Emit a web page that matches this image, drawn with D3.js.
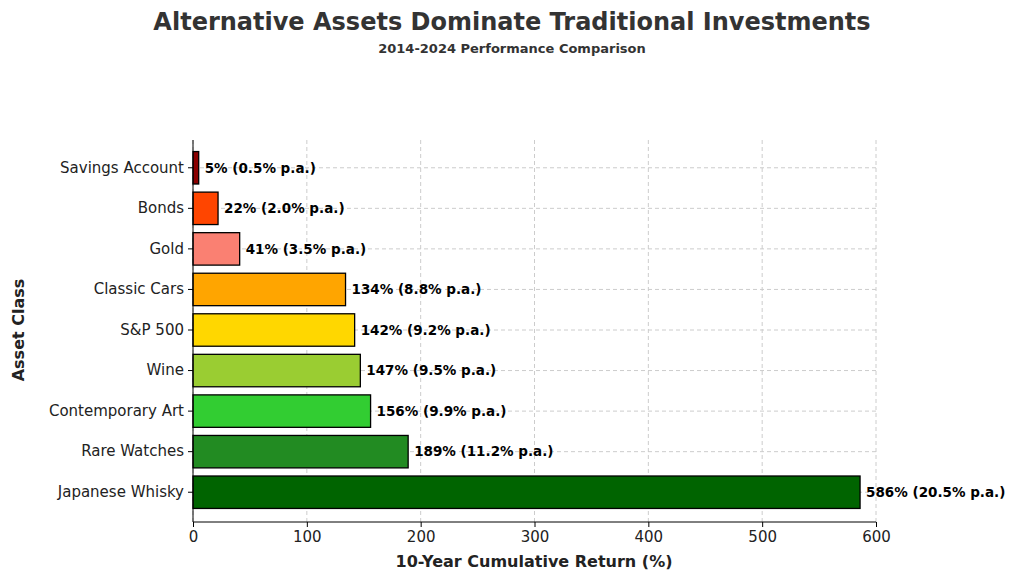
<!DOCTYPE html><html><head><meta charset="utf-8"><script src="https://cdn.jsdelivr.net/npm/d3@7"></script>
<style>body{margin:0;background:#fff}text{font-family:"DejaVu Sans",sans-serif}</style></head><body><svg id="c" width="1024" height="581"></svg>
<script>
const categories=["Savings Account","Bonds","Gold","Classic Cars","S&P 500","Wine","Contemporary Art","Rare Watches","Japanese Whisky"];
const returns=[5,22,41,134,142,147,156,189,586];
const annual=[0.5,2.0,3.5,8.8,9.2,9.5,9.9,11.2,20.5];
const colors=["#8B0000","#FF4500","#FA8072","#FFA500","#FFD700","#9ACD32","#32CD32","#228B22","#006400"];
const xTicks=[0,100,200,300,400,500,600];
const svg=d3.select("#c");
const x=d3.scaleLinear().domain([0,600]).range([193,876]);
const y=d3.scaleBand().domain(categories).range([147.5,512.5]).paddingInner(0.2).paddingOuter(0.1);
svg.append("g").selectAll("line").data(xTicks).join("line").attr("x1",d=>x(d)).attr("x2",d=>x(d)).attr("y1",140).attr("y2",522).attr("stroke","#ccc").attr("stroke-dasharray","4,3");
svg.append("g").selectAll("line").data(categories).join("line").attr("x1",193).attr("x2",876).attr("y1",d=>y(d)+y.bandwidth()/2).attr("y2",d=>y(d)+y.bandwidth()/2).attr("stroke","#ccc").attr("stroke-dasharray","4,3");
svg.append("g").selectAll("rect").data(categories).join("rect").attr("x",x(0)).attr("y",d=>y(d)).attr("height",y.bandwidth()).attr("width",(d,i)=>x(returns[i])-x(0)).attr("fill",(d,i)=>colors[i]).attr("stroke","#000").attr("stroke-width",1.3);
svg.append("g").selectAll("text").data(categories).join("text").attr("x",(d,i)=>x(returns[i])+6).attr("y",d=>y(d)+y.bandwidth()/2).attr("dy","0.35em").attr("font-size",13.5).attr("font-weight","bold").text((d,i)=>`${returns[i]}% (${annual[i].toFixed(1)}% p.a.)`);
const xa=svg.append("g").attr("transform","translate(0,522)").call(d3.axisBottom(x).tickValues(xTicks).tickSize(5).tickPadding(4));
xa.selectAll("text").attr("font-size",15).attr("fill","#222");
const ya=svg.append("g").attr("transform","translate(193,0)").call(d3.axisLeft(y).tickSize(5).tickPadding(4));
ya.selectAll("text").attr("font-size",15).attr("fill","#222");
ya.select(".domain").attr("d","M0,140V522");
xa.select(".domain").attr("d","M193,0H876");
svg.append("text").attr("x",512).attr("y",30).attr("text-anchor","middle").attr("font-size",24).attr("font-weight","bold").attr("fill","#333").text("Alternative Assets Dominate Traditional Investments");
svg.append("text").attr("x",512).attr("y",53).attr("text-anchor","middle").attr("font-size",13).attr("font-weight","bold").attr("fill","#333").text("2014-2024 Performance Comparison");
svg.append("text").attr("x",534).attr("y",567).attr("text-anchor","middle").attr("font-size",16).attr("font-weight","bold").attr("fill","#222").text("10-Year Cumulative Return (%)");
svg.append("text").attr("transform","translate(24,330) rotate(-90)").attr("text-anchor","middle").attr("font-size",16).attr("font-weight","bold").attr("fill","#222").text("Asset Class");
</script></body></html>
